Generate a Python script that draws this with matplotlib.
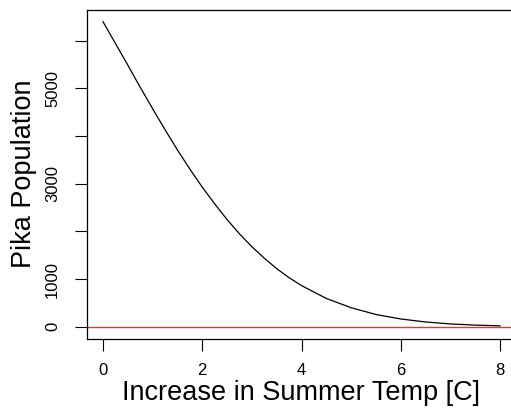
import matplotlib
matplotlib.use("Agg")
import matplotlib.pyplot as plt

# Data
temp_increase = [0, 0.25, 0.5, 0.75, 1.0, 1.25, 1.5, 1.75, 2.0, 2.25, 2.5, 2.75,
                 3.0, 3.25, 3.5, 3.75, 4.0, 4.5, 5.0, 5.5, 6.0, 6.5, 7.0, 7.5, 8.0]
pika_population = [6400, 5945, 5490, 5025, 4575, 4135, 3710, 3310, 2930, 2580,
                   2250, 1950, 1680, 1440, 1220, 1030, 865, 595, 400, 258, 164,
                   101, 60, 35, 20]
x_ticks = [0, 2, 4, 6, 8]
y_ticks = [0, 1000, 2000, 3000, 4000, 5000, 6000]
y_tick_labels = ["0", "1000", "", "3000", "", "5000", ""]
ref_level = 0

plt.rcParams['font.family'] = ['Liberation Sans', 'DejaVu Sans']

fig = plt.figure(figsize=(5.11, 4.09), dpi=100)
W, H = 511, 409
left_px, right_px, top_px, bot_px = 87.1, 515.9, 9.5, 339.0
ax = fig.add_axes([left_px / W, (H - bot_px) / H,
                   (right_px - left_px) / W, (bot_px - top_px) / H])

ax.plot(temp_increase, pika_population, color='black', lw=0.9)
ax.axhline(ref_level, color='#f03030', lw=1.0)

xmin, xmax = 0, 8
ymin, ymax = 0, 6400
xr = (xmax - xmin) * 0.04
yr = (ymax - ymin) * 0.04
ax.set_xlim(xmin - xr, xmax + xr)
ax.set_ylim(ymin - yr, ymax + yr)

ax.set_xticks(x_ticks)
ax.set_xticklabels([str(t) for t in x_ticks])
ax.set_yticks(y_ticks)
ax.set_yticklabels(y_tick_labels, rotation=90, va='center')

ax.tick_params(axis='both', direction='out', length=8.5, width=0.8,
               labelsize=12, color='black')
ax.tick_params(axis='x', pad=9)
ax.tick_params(axis='y', pad=11)
for s in ax.spines.values():
    s.set_linewidth(0.9)
    s.set_color('black')

ax.set_xlabel('Increase in Summer Temp [C]', fontsize=19.5, labelpad=1.5)
ax.set_ylabel('Pika Population', fontsize=19.5, labelpad=6)

fig.savefig('out.png', dpi=100)
